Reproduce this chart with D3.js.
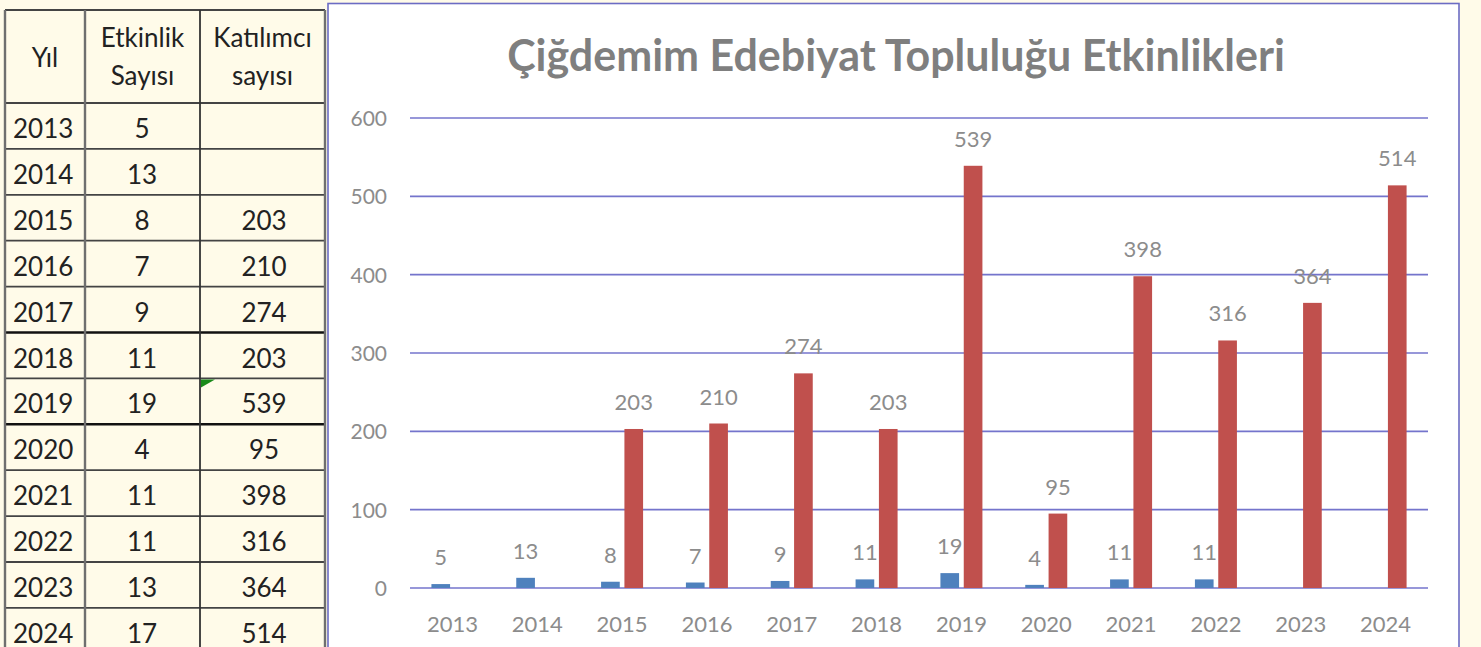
<!DOCTYPE html>
<html><head><meta charset="utf-8">
<script src="https://cdn.jsdelivr.net/npm/d3@7"></script>
<style>
html,body{margin:0;padding:0;background:#fffbe9;overflow:hidden}
svg{display:block}
text{font-family:Lato,"Open Sans",sans-serif}
</style></head>
<body>
<svg id="c" width="1481" height="647"></svg>
<script>
const years = [2013,2014,2015,2016,2017,2018,2019,2020,2021,2022,2023,2024];
const etkinlikTable = [5,13,8,7,9,11,19,4,11,11,13,17];
const katilimciTable = [null,null,203,210,274,203,539,95,398,316,364,514];
const etkinlikChart = [5,13,8,7,9,11,19,4,11,11,null,null];
const katilimciChart = [null,null,203,210,274,203,539,95,398,316,364,514];
const yTicks = [0,100,200,300,400,500,600];
const headers = [["Yıl"],["Etkinlik","Sayısı"],["Katılımcı","sayısı"]];
const title = "Çiğdemim Edebiyat Topluluğu Etkinlikleri";
const seriesKeys = ["e","k"];
const colors = {e:"#4f81bd", k:"#c0504d"};

const svg = d3.select("#c");
svg.append("rect").attr("width",1481).attr("height",647).attr("fill","#fffbe9");

// ---------- Table ----------
const colX = [5,85,200,325];
const rowY = d3.range(13).map(i => 103 + i*45.9);
const tbl = svg.append("g");
tbl.append("rect").attr("x",5).attr("y",10).attr("width",320).attr("height",660).attr("fill","#fffbe9");
// header
headers.forEach((h,ci)=>{
  const cx = (colX[ci]+colX[ci+1])/2;
  if(h.length===1){
    tbl.append("text").attr("x",cx).attr("y",67).attr("text-anchor","middle")
      .attr("font-size",26).attr("fill","#222").text(h[0]);
  } else {
    tbl.append("text").attr("x",cx).attr("y",47).attr("text-anchor","middle")
      .attr("font-size",26).attr("fill","#222").text(h[0]);
    tbl.append("text").attr("x",cx).attr("y",85).attr("text-anchor","middle")
      .attr("font-size",26).attr("fill","#222").text(h[1]);
  }
});
years.forEach((y,i)=>{
  const base = rowY[i] + 35;
  tbl.append("text").attr("x",13).attr("y",base).attr("font-size",26).attr("fill","#222").text(y);
  tbl.append("text").attr("x",142).attr("y",base).attr("text-anchor","middle").attr("font-size",26).attr("fill","#222").text(etkinlikTable[i]);
  if(katilimciTable[i]!=null)
    tbl.append("text").attr("x",264).attr("y",base).attr("text-anchor","middle").attr("font-size",26).attr("fill","#222").text(katilimciTable[i]);
});
// grid lines
const hLines = [10].concat(rowY);
hLines.forEach((y,i)=>{
  const thick = (i===6||i===8);
  tbl.append("line").attr("x1",5).attr("x2",325).attr("y1",y).attr("y2",y)
    .attr("stroke", thick? "#111":"#444").attr("stroke-width", thick?2.5:1.8);
});
colX.forEach((x,i)=>{
  tbl.append("line").attr("x1",x).attr("x2",x).attr("y1",10).attr("y2",660)
    .attr("stroke", i===2? "#333":"#6f6f6f").attr("stroke-width", i===2?1.8:2.4);
});
// green error indicator in 2019 cell
tbl.append("path").attr("d",`M${colX[2]+1},${rowY[6]+1} l14,0 l-14,8 z`).attr("fill","#1a8a1a");

// ---------- Chart ----------
const ch = svg.append("g");
ch.append("rect").attr("x",328).attr("y",3.5).attr("width",1131).attr("height",700)
  .attr("fill","#ffffff").attr("stroke","#6c6cc4").attr("stroke-width",1.6);

const x0 = d3.scaleBand().domain(years).range([410,1428]).paddingInner(0).paddingOuter(0);
const bw = x0.bandwidth();
const x1 = d3.scaleBand().domain(seriesKeys).range([bw/2-21, bw/2+21]).paddingInner(0.2).paddingOuter(0);
const y = d3.scaleLinear().domain([0,600]).range([588,118]);

// gridlines
ch.append("g").selectAll("line").data(yTicks).join("line")
  .attr("x1",410).attr("x2",1428).attr("y1",d=>y(d)).attr("y2",d=>y(d))
  .attr("stroke","#7474cc").attr("stroke-width",1.6);

// y labels
const yAxis = d3.axisLeft(y).tickValues(yTicks).tickSize(0).tickPadding(0);
const ya = ch.append("g").attr("transform","translate(387,0)").call(yAxis);
ya.select(".domain").remove();
ya.selectAll("text").attr("font-size",21).attr("fill","#8c8c8c").attr("font-family","Lato,'Open Sans',sans-serif").attr("dy","0.36em");

// x labels
const xAxis = d3.axisBottom(x0).tickSize(0).tickPadding(0);
const xa = ch.append("g").attr("transform","translate(0,588)").call(xAxis);
xa.select(".domain").remove();
xa.selectAll("text").attr("font-size",22).attr("fill","#8c8c8c").attr("font-family","Lato,'Open Sans',sans-serif").attr("y",44).attr("dy","0");

// bars
const rows = years.map((yr,i)=>({yr, e:etkinlikChart[i], k:katilimciChart[i]}));
const g = ch.append("g");
rows.forEach(r=>{
  seriesKeys.forEach(k=>{
    const v = r[k];
    if(v==null) return;
    const bx = x0(r.yr)+x1(k);
    g.append("rect").attr("x",bx).attr("width",x1.bandwidth())
      .attr("y",y(v)).attr("height",y(0)-y(v)).attr("fill",colors[k]);
    g.append("text").attr("x",bx+x1.bandwidth()/2).attr("y",y(v)-19)
      .attr("text-anchor","middle").attr("font-size",22).attr("fill","#8c8c8c").text(v);
  });
});

// title
const t = ch.append("text").attr("x",896).attr("y",71).attr("text-anchor","middle")
  .attr("font-weight","bold").attr("font-size",36).attr("fill","#7f7f7f").text(title);
const tw = t.node().getComputedTextLength();
t.attr("font-size", 36*778/tw);
</script>
</body></html>
